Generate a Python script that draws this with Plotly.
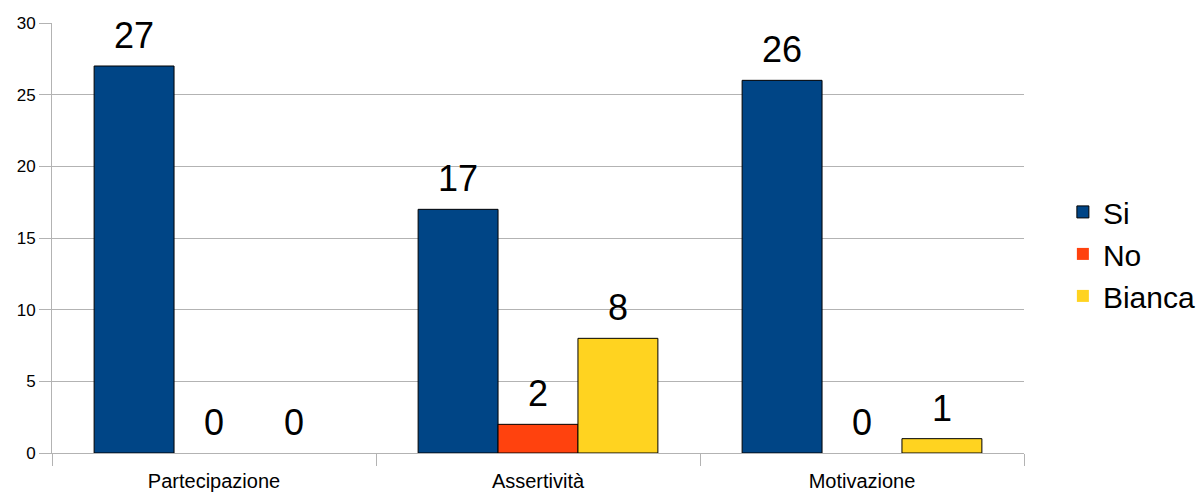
import plotly.graph_objects as go

categories = ["Partecipazione", "Assertività", "Motivazione"]
si = [27, 17, 26]
no = [0, 2, 0]
bianca = [0, 8, 1]
series_names = ["Si", "No", "Bianca"]
colors = ["#004586", "#ff420e", "#ffd320"]
series = [si, no, bianca]

FONT = "Liberation Sans, Arial, sans-serif"

fig = go.Figure()
for name, vals, col in zip(series_names, series, colors):
    fig.add_trace(go.Bar(
        x=categories, y=vals, name=name,
        marker=dict(color=col, line=dict(color="#000000",
                                         width=[1 if v else 0 for v in vals])),
    ))

shifts = [-80, 0, 80]
for vals, sh in zip(series, shifts):
    for c, v in zip(categories, vals):
        fig.add_annotation(x=c, y=v, text=str(v), showarrow=False,
                           xshift=sh, yshift=8, yanchor="bottom",
                           font=dict(size=36, color="#000000", family=FONT))

fig.update_layout(
    width=1203, height=495,
    margin=dict(l=52, r=179, t=23, b=42, autoexpand=False),
    paper_bgcolor="white", plot_bgcolor="white",
    barmode="group", bargap=0.26, bargroupgap=0,
    font=dict(family=FONT, color="#000000"),
    showlegend=True,
    legend=dict(x=1.04, y=0.463, xanchor="left", yanchor="middle",
                font=dict(size=30), tracegroupgap=0, itemwidth=30),
)
fig.update_xaxes(
    showgrid=False, tickson="boundaries", ticks="outside", ticklen=12,
    tickcolor="#b3b3b3", tickwidth=1, showline=True, linecolor="#b3b3b3",
    tickfont=dict(size=20), ticklabelstandoff=10, automargin=False,
)
fig.update_yaxes(
    range=[0, 30], dtick=5, showgrid=True, gridcolor="#b3b3b3",
    ticks="outside", ticklen=12, tickcolor="#b3b3b3", showline=True,
    linecolor="#b3b3b3", tickfont=dict(size=17), zeroline=False,
    automargin=False,
)
fig.write_html("out.html")
